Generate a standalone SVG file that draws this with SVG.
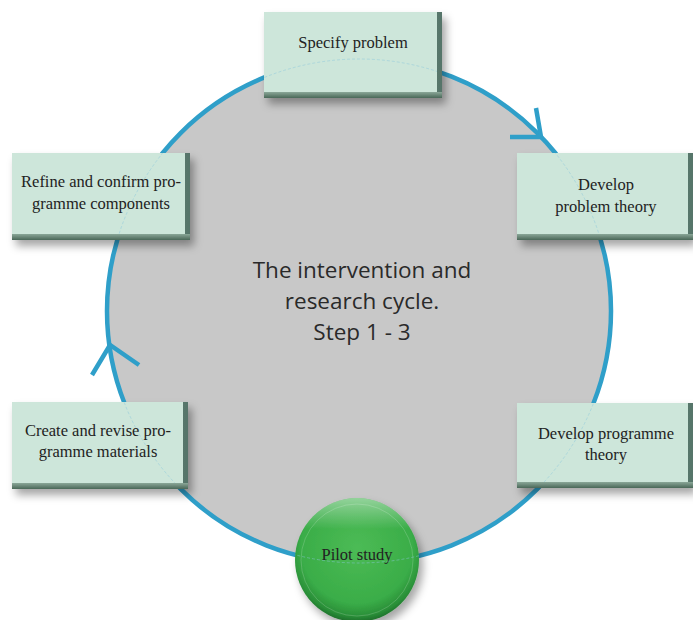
<svg xmlns="http://www.w3.org/2000/svg" width="693" height="620" viewBox="0 0 693 620">
<defs>
<style>
.box{fill:#cde6da}
.bt{font-family:"Liberation Serif","DejaVu Serif",serif;font-size:16.5px;fill:#222;text-anchor:middle}
.ct{font-family:"Open Sans","Liberation Sans",sans-serif;font-size:22.5px;fill:#2a2a2a;text-anchor:middle}
.cyc{fill:none;stroke:#2f9fc9;stroke-width:4.5;stroke-linecap:butt;stroke-linejoin:miter}
</style>
<filter id="sh" x="-20%" y="-20%" width="150%" height="160%">
<feDropShadow dx="4" dy="6" stdDeviation="4" flood-color="#000" flood-opacity="0.35"/>
</filter>
<linearGradient id="bot" x1="0" y1="0" x2="0" y2="1">
<stop offset="0" stop-color="#8aa798"/>
<stop offset="1" stop-color="#4a6858"/>
</linearGradient>
<linearGradient id="rgt" x1="0" y1="0" x2="1" y2="0">
<stop offset="0" stop-color="#9bb8a9"/>
<stop offset="1" stop-color="#56756a"/>
</linearGradient>
<radialGradient id="grn" cx="0.5" cy="0.4" r="0.6">
<stop offset="0" stop-color="#4cbb55"/>
<stop offset="0.75" stop-color="#3aad48"/>
<stop offset="0.92" stop-color="#2a8f38"/>
<stop offset="1" stop-color="#1d6e2a"/>
</radialGradient>
<linearGradient id="gl" x1="0" y1="0" x2="0" y2="1">
<stop offset="0" stop-color="#ffffff" stop-opacity="0.45"/>
<stop offset="0.25" stop-color="#ffffff" stop-opacity="0"/>
<stop offset="1" stop-color="#ffffff" stop-opacity="0"/>
</linearGradient>
<clipPath id="boxclip">
<rect x="264" y="12" width="173" height="80"/>
<rect x="517" y="153" width="171" height="81"/>
<rect x="12" y="153" width="173" height="81"/>
<rect x="12" y="402" width="171" height="81"/>
<rect x="517" y="403" width="171" height="79"/>
<circle cx="357" cy="560" r="62"/>
</clipPath>
</defs>

<circle cx="359" cy="311" r="252" fill="#c8c8c8" stroke="#2f9fc9" stroke-width="4.5"/>

<g id="connectors">
<polyline class="cyc" points="510,137 541,137 536,108"/>
<polyline class="cyc" points="92,375 110,345 139,365"/>
</g>

<g id="specify-problem" filter="url(#sh)">
<rect x="264" y="12" width="178" height="86" fill="url(#rgt)"/>
<rect class="box" x="264" y="12" width="173" height="80"/>
<rect x="264" y="92" width="178" height="6" fill="url(#bot)"/>
</g>
<g id="develop-problem-theory" filter="url(#sh)">
<rect x="517" y="153" width="176" height="87" fill="url(#rgt)"/>
<rect class="box" x="517" y="153" width="171" height="81"/>
<rect x="517" y="234" width="176" height="6" fill="url(#bot)"/>
</g>
<g id="refine" filter="url(#sh)">
<rect x="12" y="153" width="178" height="87" fill="url(#rgt)"/>
<rect class="box" x="12" y="153" width="173" height="81"/>
<rect x="12" y="234" width="178" height="6" fill="url(#bot)"/>
</g>
<g id="create" filter="url(#sh)">
<rect x="12" y="402" width="176" height="87" fill="url(#rgt)"/>
<rect class="box" x="12" y="402" width="171" height="81"/>
<rect x="12" y="483" width="176" height="6" fill="url(#bot)"/>
</g>
<g id="develop-programme-theory" filter="url(#sh)">
<rect x="517" y="403" width="176" height="85" fill="url(#rgt)"/>
<rect class="box" x="517" y="403" width="171" height="79"/>
<rect x="517" y="482" width="176" height="6" fill="url(#bot)"/>
</g>

<g id="pilot-study" filter="url(#sh)">
<circle cx="357" cy="560" r="62" fill="url(#grn)"/>
<circle cx="357" cy="560" r="62" fill="url(#gl)"/>
<circle cx="357" cy="560" r="56" fill="none" stroke="#ffffff" stroke-opacity="0.25" stroke-width="0.7"/>
</g>

<circle cx="359" cy="311" r="252" fill="none" stroke="#8cc9de" stroke-opacity="0.6" stroke-width="0.8" stroke-dasharray="3 2" clip-path="url(#boxclip)"/>

<g id="labels">
<text class="bt" x="353" y="48">Specify problem</text>
<text class="bt" x="606" y="190">Develop</text>
<text class="bt" x="606" y="212">problem theory</text>
<text class="bt" x="101" y="187">Refine and confirm pro-</text>
<text class="bt" x="101" y="209">gramme components</text>
<text class="bt" x="98" y="436">Create and revise pro-</text>
<text class="bt" x="98" y="457">gramme materials</text>
<text class="bt" x="606" y="439">Develop programme</text>
<text class="bt" x="606" y="460">theory</text>
<text class="bt" x="357" y="560">Pilot study</text>
<text class="ct" x="362" y="278">The intervention and</text>
<text class="ct" x="362" y="309">research cycle.</text>
<text class="ct" x="362" y="340">Step 1 - 3</text>
</g>
</svg>
